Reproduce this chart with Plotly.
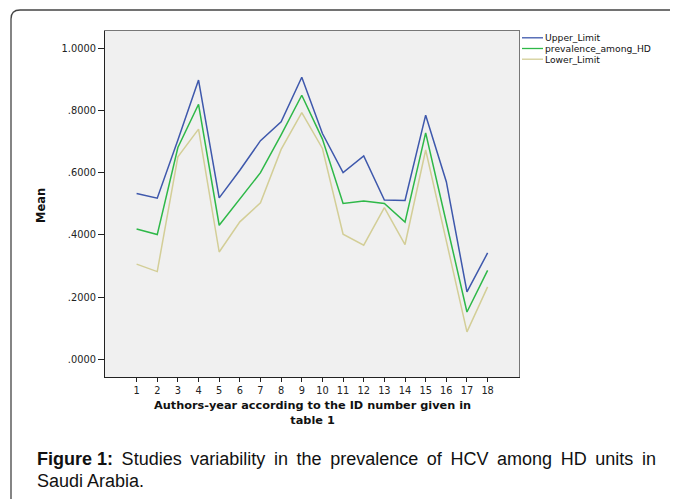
import plotly.graph_objects as go

ids = list(range(1, 19))
series_names = ["Upper_Limit", "prevalence_among_HD", "Lower_Limit"]
upper = [0.533, 0.518, 0.705, 0.898, 0.519, 0.608, 0.703, 0.764, 0.907, 0.726,
         0.600, 0.654, 0.512, 0.511, 0.785, 0.571, 0.217, 0.342]
prevalence = [0.419, 0.401, 0.681, 0.820, 0.431, 0.516, 0.600, 0.722, 0.849, 0.708,
              0.501, 0.509, 0.501, 0.441, 0.728, 0.440, 0.152, 0.286]
lower = [0.306, 0.282, 0.651, 0.740, 0.345, 0.442, 0.503, 0.675, 0.793, 0.678,
         0.402, 0.367, 0.488, 0.369, 0.673, 0.378, 0.088, 0.233]
y_tickvals = [0.0, 0.2, 0.4, 0.6, 0.8, 1.0]
y_ticktext = [".0000", ".2000", ".4000", ".6000", ".8000", "1.0000"]
colors = ["#3e58ac", "#2eb848", "#d3ce97"]

W, H = 678, 499
OFF = 8  # page body margin of the browser
L, R, T, B = 105, 519, 31, 377   # plot area in screenshot pixels
pw, ph = R - L, B - T

def px(x):
    return (x - L) / pw

def py(y):
    return (B - y) / ph

fig = go.Figure()
for name, vals, c in zip(series_names, [upper, prevalence, lower], colors):
    fig.add_trace(go.Scatter(x=ids, y=vals, mode="lines", name=name,
                             line=dict(color=c, width=1.5), showlegend=False))

shapes = []
annotations = []
# manual legend
for i, (name, c) in enumerate(zip(series_names, colors)):
    yy = 37.8 + i * 10.7
    shapes.append(dict(type="line", xref="paper", yref="paper",
                       x0=px(522), x1=px(543), y0=py(yy), y1=py(yy),
                       line=dict(color=c, width=1.3)))
    annotations.append(dict(text=name, xref="paper", yref="paper", x=px(543), y=py(yy),
                            xanchor="left", yanchor="middle", showarrow=False,
                            font=dict(family="DejaVu Sans", size=9.2, color="#111")))

# outer frame with rounded corner
x0, y0, x1, y1, r = px(11), py(10), px(700), py(520), 9
path = (f"M {x0},{y1} L {x0},{py(10 + r)} Q {x0},{y0} {px(11 + r)},{y0} L {x1},{y0}")
shapes.append(dict(type="path", xref="paper", yref="paper", path=path,
                   line=dict(color="#444", width=1.3)))

# axis titles
annotations.append(dict(text="<b>Mean</b>", xref="paper", yref="paper", x=px(41), y=py(206),
                        textangle=-90, showarrow=False, xanchor="center", yanchor="middle",
                        font=dict(family="DejaVu Sans", size=11.5, color="#111")))
annotations.append(dict(text="<b>Authors-year according to the ID number given in<br>table 1</b>",
                        xref="paper", yref="paper", x=px(312), y=py(413), showarrow=False,
                        xanchor="center", yanchor="middle",
                        font=dict(family="DejaVu Sans", size=11.3, color="#111")))
# caption (first line justified in the original: add thin spaces)
cap1 = "<b>Figure 1:</b> Studies variability in the prevalence of HCV among HD units in"
cap1 = cap1.replace(" ", " \u2009").replace("<b>Figure \u20091:</b>", "<b>Figure 1:</b>")
annotations.append(dict(text=cap1,
                        xref="paper", yref="paper", x=px(35), y=py(459), showarrow=False,
                        xanchor="left", yanchor="middle",
                        font=dict(family="Liberation Sans, Arial", size=18, color="#111")))
annotations.append(dict(text="Saudi Arabia.",
                        xref="paper", yref="paper", x=px(35), y=py(481), showarrow=False,
                        xanchor="left", yanchor="middle",
                        font=dict(family="Liberation Sans, Arial", size=18, color="#111")))

fig.update_layout(
    width=W, height=H,
    margin=dict(l=L - OFF, r=W - (R - OFF), t=T - OFF, b=H - (B - OFF), pad=0),
    paper_bgcolor="white", plot_bgcolor="#f0f0f0",
    shapes=shapes, annotations=annotations,
    xaxis=dict(range=[-0.53, 19.52], tickvals=ids, ticktext=[str(i) for i in ids],
               showgrid=False, zeroline=False, ticks="outside", ticklen=4, tickcolor="#222",
               showline=True, linecolor="#222", linewidth=1.3, mirror=False,
               tickfont=dict(family="DejaVu Sans", size=9.8, color="#222")),
    yaxis=dict(range=[-0.057, 1.0557], tickvals=y_tickvals, ticktext=y_ticktext,
               showgrid=False, zeroline=False, ticks="outside", ticklen=6, tickcolor="#222",
               showline=True, linecolor="#222", linewidth=1.3,
               tickfont=dict(family="DejaVu Sans", size=9.8, color="#222")),
    xaxis2=dict(overlaying="x", side="top", showline=True, linecolor="#777", linewidth=1.3,
                showticklabels=False, ticks="", showgrid=False, zeroline=False, range=[0, 1]),
    yaxis2=dict(overlaying="y", side="right", showline=True, linecolor="#777", linewidth=1.3,
                showticklabels=False, ticks="", showgrid=False, zeroline=False, range=[0, 1]),
)
fig.add_trace(go.Scatter(x=[None], y=[None], xaxis="x2", yaxis="y2", showlegend=False))

fig.write_html("out.html")
